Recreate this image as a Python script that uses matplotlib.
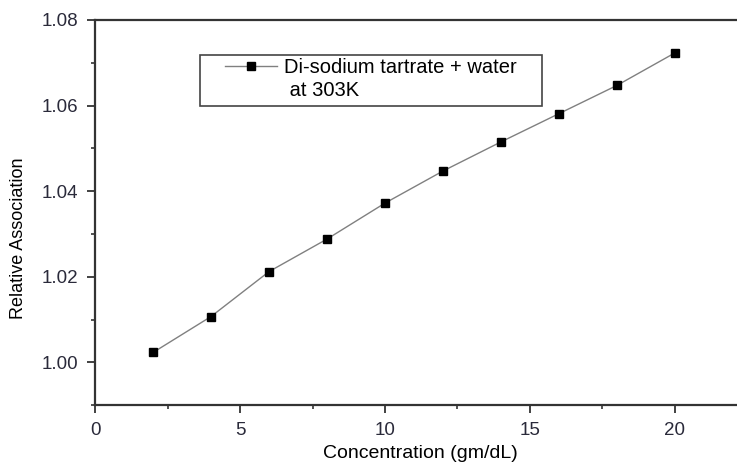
import matplotlib.pyplot as plt
from matplotlib.lines import Line2D
from matplotlib.patches import Rectangle
from matplotlib.ticker import MultipleLocator

plt.rcParams['font.family'] = ['Liberation Sans', 'DejaVu Sans']

conc = [2, 4, 6, 8, 10, 12, 14, 16, 18, 20]
rel_assoc = [1.0023, 1.0107, 1.0212, 1.0288, 1.0372, 1.0447, 1.0515, 1.0581, 1.0647, 1.0723]
label_line1 = "Di-sodium tartrate + water"
label_line2 = " at 303K"

fig = plt.figure(figsize=(7.37, 4.63), dpi=100)
ax = fig.add_axes([0.129, 0.125, 0.871, 0.832])

line, = ax.plot(conc, rel_assoc, color='#808080', lw=1.0, marker='s', ms=6,
                mfc='black', mec='black')

ax.set_xlim(0, 22.14)
ax.set_ylim(0.99, 1.08)
ax.xaxis.set_major_locator(MultipleLocator(5))
ax.xaxis.set_minor_locator(MultipleLocator(2.5))
ax.yaxis.set_major_locator(MultipleLocator(0.02))
ax.yaxis.set_minor_locator(MultipleLocator(0.01))
ax.yaxis.set_major_formatter(plt.FormatStrFormatter('%.2f'))

for s in ['left', 'top', 'bottom']:
    ax.spines[s].set_linewidth(1.6)
    ax.spines[s].set_color('#333333')
ax.spines['right'].set_visible(False)

ax.tick_params(which='major', direction='out', length=6, width=1.3, labelsize=13.5,
               colors='#333333', labelcolor='#2a2a3a', pad=6)
ax.tick_params(which='minor', direction='out', length=3, width=1.2, colors='#333333')

ax.set_xlabel('Concentration (gm/dL)', fontsize=14)
ax.set_ylabel('Relative Association', fontsize=13)
ax.xaxis.set_label_coords(0.507, -0.104)
ax.yaxis.set_label_coords(-0.106, 0.434)

# legend frame drawn separately so the padding can match the original
fig.patches.append(Rectangle((200 / 737, 1 - 106 / 463), 342 / 737, 51 / 463,
                             transform=fig.transFigure, fill=False,
                             edgecolor='#444444', lw=1.2))
blank = Line2D([], [], color='none')
leg = ax.legend([line, blank], [label_line1, label_line2], loc='upper left',
                bbox_to_anchor=(225 / 737, 1 - 58 / 463), bbox_transform=fig.transFigure,
                fontsize=14.5, frameon=False, handlelength=2.6, handletextpad=0.35,
                borderpad=0, borderaxespad=0, labelspacing=0.2, markerscale=0.9)

fig.savefig('out.png', dpi=100)
